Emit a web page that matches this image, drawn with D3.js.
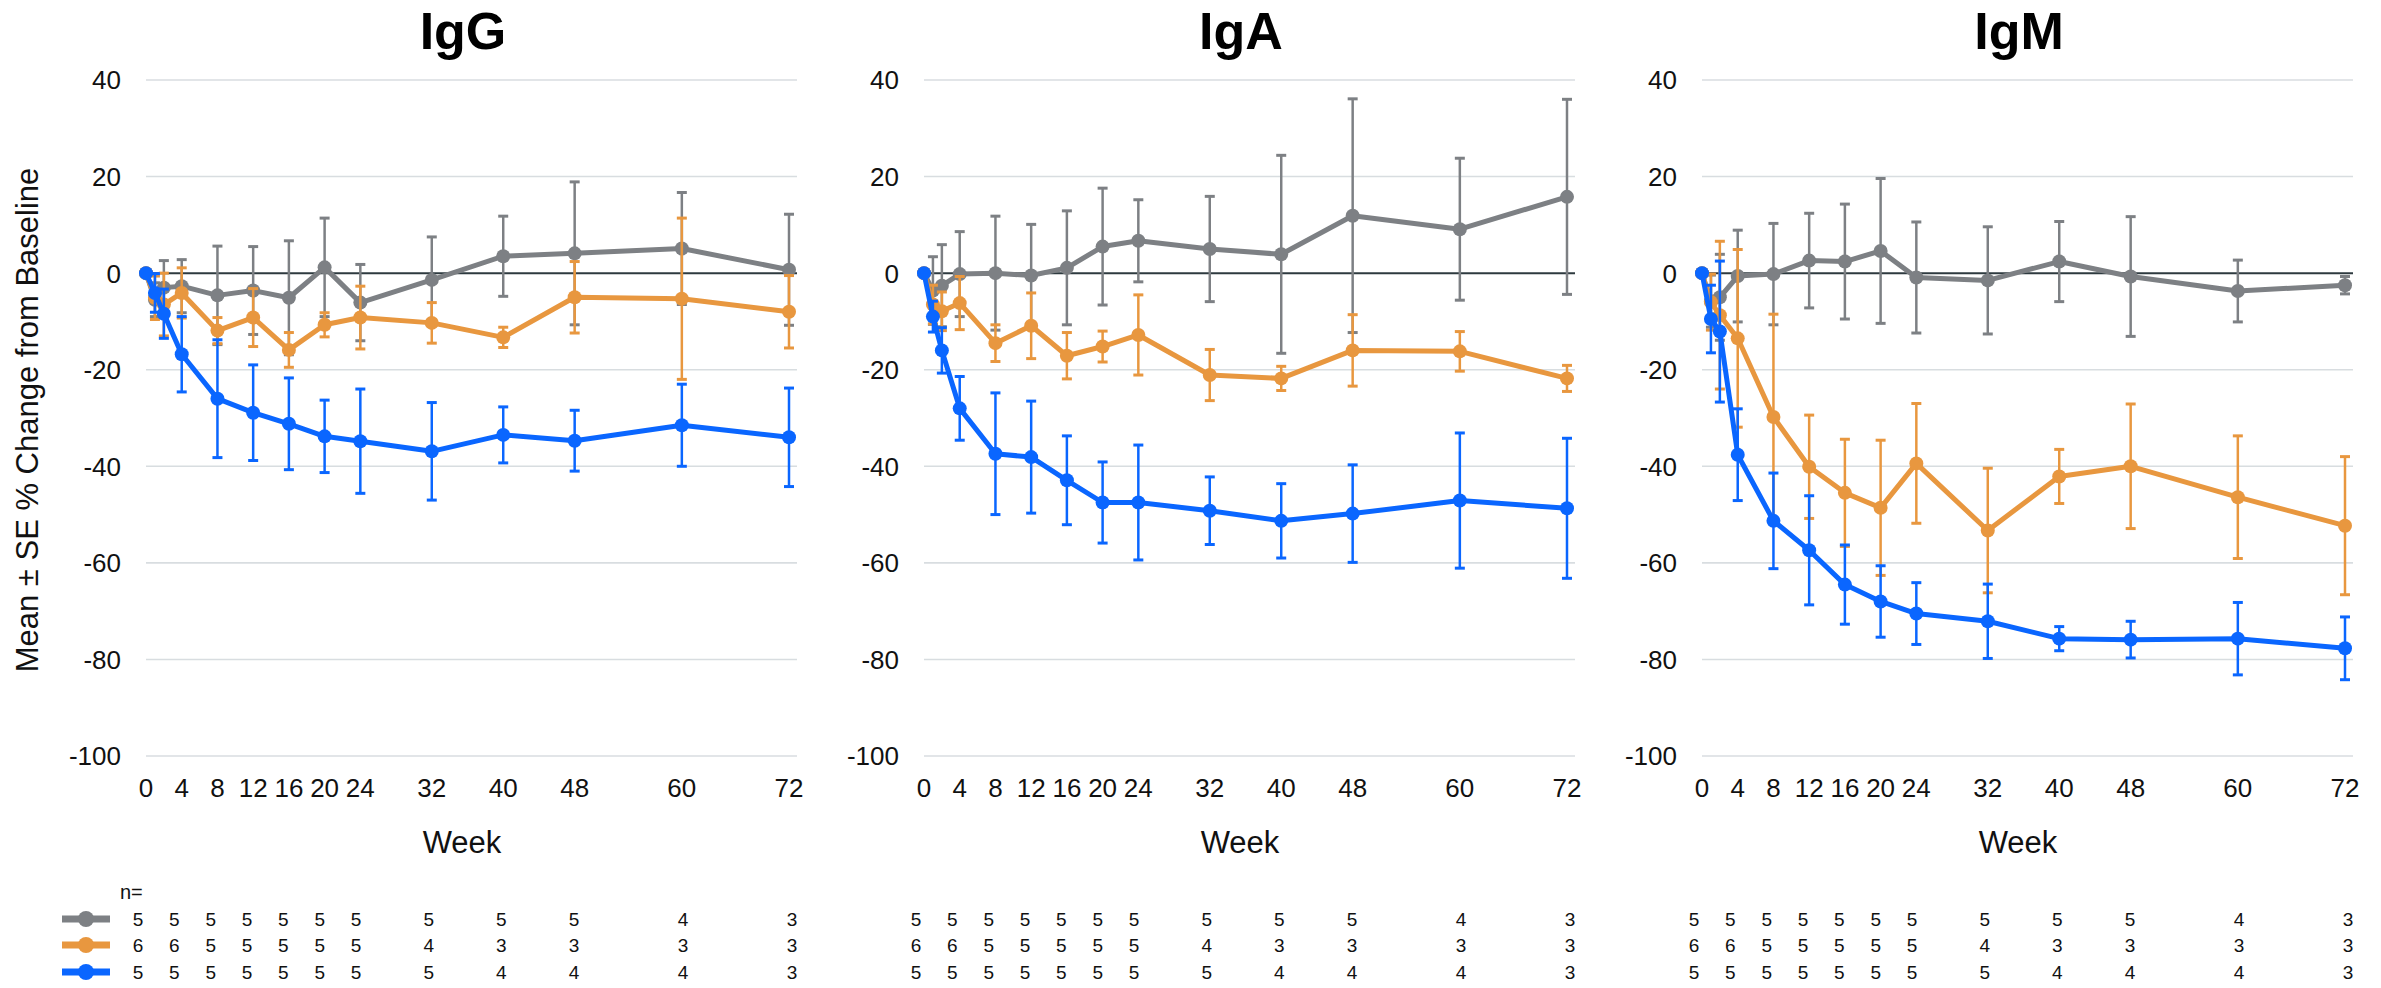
<!DOCTYPE html>
<html>
<head>
<meta charset="utf-8">
<script src="https://cdn.jsdelivr.net/npm/d3@7"></script>
<style>
  html, body { margin: 0; padding: 0; background: #ffffff; }
  svg { display: block; font-family: "Liberation Sans", Arial, Helvetica, sans-serif; }
</style>
</head>
<body>
<svg id="chart" width="2381" height="988"></svg>
<script>
// Study weeks at which each cohort was sampled
const weeks = [0, 1, 2, 4, 8, 12, 16, 20, 24, 32, 40, 48, 60, 72];
// Weeks shown as x-axis tick labels (and n= table columns)
const tickWeeks = [0, 4, 8, 12, 16, 20, 24, 32, 40, 48, 60, 72];
const yTicks = [40, 20, 0, -20, -40, -60, -80, -100];

const panelTitles = ["IgG", "IgA", "IgM"];
const cohorts = ["Cohort 1", "Cohort 2", "Cohort 3"];

// Mean % change from baseline, per panel, per cohort
const iggCohort1 = [0, -5.5, -3.0, -2.7, -4.6, -3.6, -5.1, 1.2, -6.1, -1.4, 3.5, 4.1, 5.1, 0.7];
const iggCohort2 = [0, -5.1, -6.5, -4.1, -11.9, -9.2, -15.9, -10.7, -9.2, -10.3, -13.3, -5.0, -5.3, -8.0];
const iggCohort3 = [0, -4.1, -8.4, -16.8, -26.0, -28.9, -31.2, -33.8, -34.8, -36.9, -33.5, -34.7, -31.5, -34.0];
const iggSe1 = [0, 3.5, 5.6, 5.5, 10.2, 9.1, 11.8, 10.2, 7.9, 8.9, 8.3, 14.8, 11.6, 11.5];
const iggSe2 = [0, 4.5, 6.5, 5.2, 2.7, 6.0, 3.6, 2.5, 6.5, 4.2, 2.1, 7.4, 16.7, 7.5];
const iggSe3 = [0, 4.0, 5.1, 7.8, 12.2, 9.9, 9.5, 7.5, 10.8, 10.1, 5.8, 6.3, 8.5, 10.2];

const igaCohort1 = [0, -3.6, -2.6, -0.2, 0.0, -0.5, 1.1, 5.5, 6.7, 5.0, 3.9, 11.9, 9.1, 15.8];
const igaCohort2 = [0, -6.5, -7.9, -6.2, -14.5, -10.9, -17.1, -15.2, -12.8, -21.1, -21.8, -16.0, -16.2, -21.8];
const igaCohort3 = [0, -9.0, -16.0, -28.0, -37.4, -38.1, -42.9, -47.5, -47.5, -49.2, -51.3, -49.8, -47.1, -48.7];
const igaSe1 = [0, 7.0, 8.5, 8.8, 11.8, 10.6, 11.8, 12.1, 8.5, 10.9, 20.5, 24.2, 14.7, 20.2];
const igaSe2 = [0, 4.0, 4.0, 5.5, 3.8, 6.8, 4.8, 3.2, 8.3, 5.3, 2.5, 7.4, 4.1, 2.7];
const igaSe3 = [0, 3.2, 4.7, 6.6, 12.6, 11.6, 9.2, 8.4, 11.9, 7.0, 7.7, 10.1, 14.0, 14.5];

const igmCohort1 = [0, -5.8, -5.0, -0.6, -0.2, 2.6, 2.4, 4.6, -0.9, -1.5, 2.4, -0.7, -3.7, -2.5];
const igmCohort2 = [0, -6.0, -8.7, -13.5, -29.8, -40.1, -45.5, -48.6, -39.4, -53.3, -42.1, -40.0, -46.4, -52.3];
const igmCohort3 = [0, -9.5, -12.1, -37.6, -51.3, -57.4, -64.5, -68.0, -70.5, -72.1, -75.7, -75.9, -75.7, -77.7];
const igmSe1 = [0, 5.4, 8.9, 9.5, 10.5, 9.8, 11.9, 15.0, 11.5, 11.1, 8.3, 12.4, 6.4, 1.8];
const igmSe2 = [0, 5.8, 15.3, 18.4, 21.3, 10.7, 11.1, 14.0, 12.4, 12.9, 5.6, 12.9, 12.7, 14.3];
const igmSe3 = [0, 7.0, 14.6, 9.5, 9.9, 11.3, 8.2, 7.4, 6.4, 7.7, 2.5, 3.8, 7.5, 6.5];

// Number of subjects per cohort at each tick week
const nCohort1 = [5, 5, 5, 5, 5, 5, 5, 5, 5, 5, 4, 3];
const nCohort2 = [6, 6, 5, 5, 5, 5, 5, 4, 3, 3, 3, 3];
const nCohort3 = [5, 5, 5, 5, 5, 5, 5, 5, 4, 4, 4, 3];

const cohortColors = ["#7d8084", "#e8973f", "#0a66ff"];

const panels = [
  { title: panelTitles[0], means: [iggCohort1, iggCohort2, iggCohort3], ses: [iggSe1, iggSe2, iggSe3] },
  { title: panelTitles[1], means: [igaCohort1, igaCohort2, igaCohort3], ses: [igaSe1, igaSe2, igaSe3] },
  { title: panelTitles[2], means: [igmCohort1, igmCohort2, igmCohort3], ses: [igmSe1, igmSe2, igmSe3] }
];
const nRows = [nCohort1, nCohort2, nCohort3];

// Layout
const panelLeft = [146, 924, 1702];
const plotWidth = 651;
const weekSpan = 643;
const yTop = 80, yBottom = 756;
const nRowBaselines = [926, 952, 979];

const svg = d3.select("#chart");
const y = d3.scaleLinear().domain([40, -100]).range([yTop, yBottom]);

panels.forEach((panel, p) => {
  const x0 = panelLeft[p];
  const x = d3.scaleLinear().domain([0, 72]).range([x0, x0 + weekSpan]);
  const nx = d3.scaleLinear().domain([0, 72]).range([x0 - 8, x0 + weekSpan + 3]);
  const g = svg.append("g");

  // horizontal gridlines
  g.selectAll("line.grid").data(yTicks.filter(t => t !== 0)).join("line")
    .attr("x1", x0).attr("x2", x0 + plotWidth)
    .attr("y1", d => y(d)).attr("y2", d => y(d))
    .attr("stroke", "#d8dde0").attr("stroke-width", 1.6);

  // zero reference line
  g.append("line")
    .attr("x1", x0).attr("x2", x0 + plotWidth)
    .attr("y1", y(0)).attr("y2", y(0))
    .attr("stroke", "#2e3a3f").attr("stroke-width", 2);

  // y tick labels
  g.selectAll("text.ytick").data(yTicks).join("text")
    .attr("x", x0 - 25).attr("y", d => y(d)).attr("dy", "0.36em")
    .attr("text-anchor", "end").attr("font-size", 26).attr("fill", "#111")
    .text(d => d);

  // x tick labels
  g.selectAll("text.xtick").data(tickWeeks).join("text")
    .attr("x", d => x(d)).attr("y", 797)
    .attr("text-anchor", "middle").attr("font-size", 26).attr("fill", "#111")
    .text(d => d);

  // panel title
  g.append("text")
    .attr("x", x0 + 317).attr("y", 49)
    .attr("text-anchor", "middle").attr("font-size", 52).attr("font-weight", "bold")
    .attr("fill", "#000").text(panel.title);

  // x axis title
  g.append("text")
    .attr("x", x0 + 316).attr("y", 853)
    .attr("text-anchor", "middle").attr("font-size", 31).attr("fill", "#111")
    .text("Week");

  // series: error bars, line, markers
  const line = d3.line().x(d => x(d.w)).y(d => y(d.m));
  cohorts.forEach((c, s) => {
    const color = cohortColors[s];
    const pts = weeks.map((w, i) => ({ w, m: panel.means[s][i], se: panel.ses[s][i] }));
    const sg = g.append("g");
    const eb = pts.filter(d => d.se > 0);
    sg.selectAll("line.eb").data(eb).join("line")
      .attr("x1", d => x(d.w)).attr("x2", d => x(d.w))
      .attr("y1", d => y(d.m + d.se)).attr("y2", d => y(d.m - d.se))
      .attr("stroke", color).attr("stroke-width", 2.5);
    ["top", "bottom"].forEach(end => {
      sg.selectAll("line.cap-" + end).data(eb).join("line")
        .attr("x1", d => x(d.w) - 5).attr("x2", d => x(d.w) + 5)
        .attr("y1", d => y(end === "top" ? d.m + d.se : d.m - d.se))
        .attr("y2", d => y(end === "top" ? d.m + d.se : d.m - d.se))
        .attr("stroke", color).attr("stroke-width", 3);
    });
    sg.append("path").datum(pts)
      .attr("d", line).attr("fill", "none")
      .attr("stroke", color).attr("stroke-width", 5).attr("stroke-linejoin", "round");
    sg.selectAll("circle").data(pts).join("circle")
      .attr("cx", d => x(d.w)).attr("cy", d => y(d.m)).attr("r", 7)
      .attr("fill", color);
  });

  // n= table
  nRows.forEach((row, r) => {
    g.selectAll("text.n" + r).data(row).join("text")
      .attr("x", (d, i) => nx(tickWeeks[i])).attr("y", nRowBaselines[r])
      .attr("text-anchor", "middle").attr("font-size", 19).attr("fill", "#111")
      .text(d => d);
  });

  if (p === 0) {
    g.append("text").attr("x", 120).attr("y", 899)
      .attr("font-size", 20).attr("fill", "#111").text("n=");
    nRows.forEach((row, r) => {
      const cy = nRowBaselines[r] - 7;
      g.append("line").attr("x1", 62).attr("x2", 110).attr("y1", cy).attr("y2", cy)
        .attr("stroke", cohortColors[r]).attr("stroke-width", 7);
      g.append("circle").attr("cx", 86).attr("cy", cy).attr("r", 8)
        .attr("fill", cohortColors[r]);
    });
  }
});

// shared y axis title
svg.append("text")
  .attr("transform", "translate(27,420) rotate(-90)")
  .attr("text-anchor", "middle").attr("dy", "0.35em")
  .attr("font-size", 31).attr("fill", "#111")
  .text("Mean ± SE % Change from Baseline");
</script>
</body>
</html>
